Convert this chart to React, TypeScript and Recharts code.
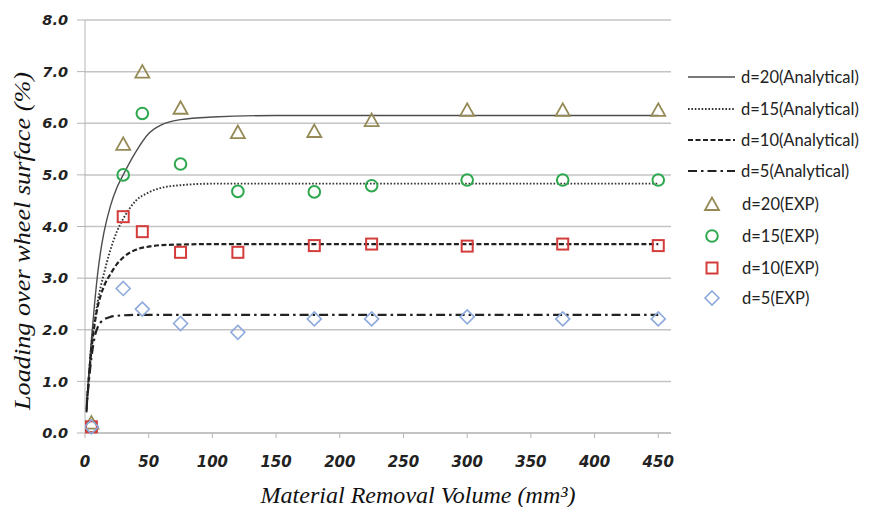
import React from "react";
import {
  ComposedChart,
  Line,
  Scatter,
  XAxis,
  YAxis,
  CartesianGrid,
} from "recharts";

// ---- Data ----
const analyticX = [1, 3, 5, 7.5, 10, 12.5, 15, 20, 25, 30, 40, 50, 60, 75, 100, 150, 200, 300, 450];
const d20Analytical = [0.45, 1.15, 1.8, 2.5, 3.1, 3.55, 3.9, 4.4, 4.75, 5.0, 5.45, 5.8, 5.97, 6.07, 6.12, 6.15, 6.15, 6.15, 6.15];
const d15Analytical = [0.45, 1.1, 1.7, 2.15, 2.55, 2.85, 3.1, 3.55, 3.9, 4.15, 4.5, 4.66, 4.75, 4.8, 4.83, 4.83, 4.83, 4.83, 4.83];
const d10Analytical = [0.42, 1.05, 1.6, 2.1, 2.45, 2.68, 2.85, 3.08, 3.27, 3.4, 3.55, 3.61, 3.64, 3.65, 3.66, 3.66, 3.66, 3.66, 3.66];
const d5Analytical = [0.4, 1.0, 1.45, 1.85, 2.05, 2.15, 2.2, 2.25, 2.27, 2.28, 2.29, 2.29, 2.29, 2.29, 2.29, 2.29, 2.29, 2.29, 2.29];

const expX = [5, 30, 45, 75, 120, 180, 225, 300, 375, 450];
const d20Exp = [0.2, 5.6, 7.0, 6.3, 5.83, 5.85, 6.06, 6.26, 6.26, 6.26];
const d15Exp = [0.12, 5.0, 6.19, 5.21, 4.68, 4.67, 4.79, 4.9, 4.9, 4.9];
const d10Exp = [0.12, 4.19, 3.9, 3.5, 3.5, 3.63, 3.66, 3.62, 3.66, 3.63];
const d5Exp = [0.12, 2.8, 2.4, 2.12, 1.95, 2.21, 2.21, 2.25, 2.21, 2.21];

const xTicks = [0, 50, 100, 150, 200, 250, 300, 350, 400, 450];
const yTicks = [0, 1, 2, 3, 4, 5, 6, 7, 8];

const xTitle = "Material Removal Volume (mm\u00B3)";
const yTitle = "Loading over wheel surface (%)";

const legendLabels = [
  "d=20(Analytical)",
  "d=15(Analytical)",
  "d=10(Analytical)",
  "d=5(Analytical)",
  "d=20(EXP)",
  "d=15(EXP)",
  "d=10(EXP)",
  "d=5(EXP)",
];

const zip = (xs: number[], ys: number[]) => xs.map((x, i) => ({ x, y: ys[i] }));

// ---- Styles ----
const C_TRI = "#958a55";
const C_CIR = "#2ea84e";
const C_SQ = "#d43c3c";
const C_DIA = "#8eaadc";

const TICK_FONT = "'DejaVu Sans', sans-serif";
const TITLE_FONT = "'Liberation Serif', 'Times New Roman', serif";
const LEGEND_FONT = "Lato, 'Open Sans', sans-serif";

const lineStyles = [
  { stroke: "#4d4d4d", strokeWidth: 1.4, dash: undefined as string | undefined },
  { stroke: "#333333", strokeWidth: 1.9, dash: "1.6 1.8" },
  { stroke: "#222222", strokeWidth: 2.2, dash: "5 2.5" },
  { stroke: "#222222", strokeWidth: 2.2, dash: "9 4 2.5 4" },
];

const Triangle = (p: any) => {
  const { cx, cy } = p;
  if (cx == null || cy == null) return null;
  return (
    <polygon
      points={`${cx},${cy - 6.5} ${cx - 7},${cy + 6} ${cx + 7},${cy + 6}`}
      fill="none"
      stroke={C_TRI}
      strokeWidth={1.8}
    />
  );
};
const CircleM = (p: any) => {
  const { cx, cy } = p;
  if (cx == null || cy == null) return null;
  return <circle cx={cx} cy={cy} r={5.8} fill="none" stroke={C_CIR} strokeWidth={2} />;
};
const SquareM = (p: any) => {
  const { cx, cy } = p;
  if (cx == null || cy == null) return null;
  return <rect x={cx - 5.5} y={cy - 5.5} width={11} height={11} fill="none" stroke={C_SQ} strokeWidth={2} />;
};
const DiamondM = (p: any) => {
  const { cx, cy } = p;
  if (cx == null || cy == null) return null;
  return (
    <polygon
      points={`${cx},${cy - 7} ${cx + 7},${cy} ${cx},${cy + 7} ${cx - 7},${cy}`}
      fill="none"
      stroke={C_DIA}
      strokeWidth={1.6}
    />
  );
};

const markerShapes = [Triangle, CircleM, SquareM, DiamondM];

const ChartLegend = () => {
  const rowYs = [77, 109, 140, 171, 204, 236, 268, 298];
  return (
    <svg
      width={186}
      height={250}
      style={{ position: "absolute", left: 686, top: 62, display: "block" }}
    >
      {legendLabels.map((lab, i) => {
        const y = rowYs[i] - 62;
        let icon: React.ReactNode;
        if (i < 4) {
          const s = lineStyles[i];
          icon = (
            <line x1={2} x2={49} y1={y} y2={y} stroke={s.stroke} strokeWidth={s.strokeWidth} strokeDasharray={s.dash} />
          );
        } else {
          const Shape = markerShapes[i - 4];
          icon = <Shape cx={26} cy={y} />;
        }
        return (
          <g key={lab}>
            {icon}
            <text
              x={i < 4 ? 55 : 56}
              y={y}
              dy="0.36em"
              fontFamily={LEGEND_FONT}
              fontSize={16.5}
              fill="#222"
            >
              {lab}
            </text>
          </g>
        );
      })}
    </svg>
  );
};

export default function App() {
  return (
    <div style={{ position: "absolute", left: 0, top: 0, width: 872, height: 507, background: "#fff" }}>
      <ComposedChart width={872} height={507} margin={{ top: 20, right: 201, bottom: 24, left: 0 }}>
        <CartesianGrid vertical={false} stroke="#c4c4c4" strokeWidth={1.5} />
        <XAxis
          type="number"
          dataKey="x"
          domain={[0, 460]}
          ticks={xTicks}
          allowDataOverflow
          height={50}
          stroke="#b5b5b5"
          tickSize={5}
          tickMargin={18}
          tick={{ fontFamily: TICK_FONT, fontSize: 15, fontWeight: "bold", fontStyle: "italic", fill: "#222" }}
          label={{
            content: () => (
              <text
                x={418}
                y={503}
                textAnchor="middle"
                fontFamily={TITLE_FONT}
                fontStyle="italic"
                fontSize={23}
                textLength={315}
                lengthAdjust="spacingAndGlyphs"
                fill="#111"
              >
                {xTitle}
              </text>
            ),
          }}
        />
        <YAxis
          type="number"
          domain={[0, 8]}
          ticks={yTicks}
          width={85}
          stroke="#b5b5b5"
          tickSize={8}
          tickMargin={9}
          tickFormatter={(v: number) => v.toFixed(1)}
          tick={{ fontFamily: TICK_FONT, fontSize: 14.5, fontWeight: "bold", fontStyle: "italic", fill: "#222" }}
          label={{
            content: () => (
              <text
                transform="translate(30, 241) rotate(-90)"
                textAnchor="middle"
                fontFamily={TITLE_FONT}
                fontStyle="italic"
                fontSize={23}
                textLength={338}
                lengthAdjust="spacingAndGlyphs"
                fill="#111"
              >
                {yTitle}
              </text>
            ),
          }}
        />
        {[d20Analytical, d15Analytical, d10Analytical, d5Analytical].map((ys, i) => (
          <Line
            key={"a" + i}
            data={zip(analyticX, ys)}
            dataKey="y"
            type="monotone"
            stroke={lineStyles[i].stroke}
            strokeWidth={lineStyles[i].strokeWidth}
            strokeDasharray={lineStyles[i].dash}
            dot={false}
            activeDot={false}
            isAnimationActive={false}
            name={legendLabels[i]}
          />
        ))}
        {[d20Exp, d15Exp, d10Exp, d5Exp].map((ys, i) => (
          <Scatter
            key={"e" + i}
            data={zip(expX, ys)}
            dataKey="y"
            shape={markerShapes[i]}
            isAnimationActive={false}
            name={legendLabels[i + 4]}
          />
        ))}
      </ComposedChart>
      <ChartLegend />
    </div>
  );
}
